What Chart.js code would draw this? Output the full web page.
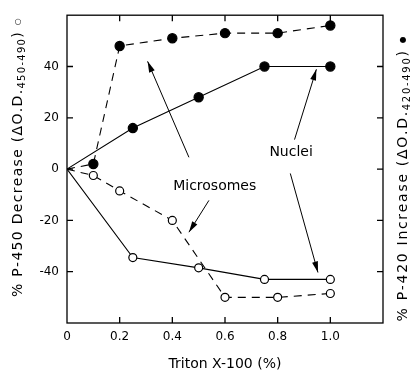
<!DOCTYPE html>
<html>
<head>
<meta charset="utf-8">
<script src="https://cdn.jsdelivr.net/npm/chart.js@4"></script>
<style>
  body { margin: 0; background: #fff; }
  canvas { display: block; }
</style>
</head>
<body>
<canvas id="chart" width="413" height="375"></canvas>
<script>
// Triton X-100 concentration (%)
const xMicrosomes = [0, 0.1, 0.2, 0.4, 0.6, 0.8, 1.0];
const xNuclei = [0, 0.25, 0.5, 0.75, 1.0];

// % P-420 increase (filled) and % P-450 decrease (open)
const p420Microsomes = [0, 2, 48, 51, 53, 53, 56];
const p420Nuclei = [0, 16, 28, 40, 40];
const p450Microsomes = [0, -2.5, -8.5, -20, -50, -50, -48.5];
const p450Nuclei = [0, -34.5, -38.5, -43, -43];

const xTickValues = [0, 0.2, 0.4, 0.6, 0.8, 1.0, 1.2];
const xTickLabels = ["0", "0.2", "0.4", "0.6", "0.8", "1.0", ""];
const yTickValues = [-60, -40, -20, 0, 20, 40, 60];
const yTickLabels = ["", "-40", "-20", "0", "20", "40", ""];

// labels and arrows, in data units
const labels = [
    { text: "Nuclei", x: 0.851, y: 6.4 },
    { text: "Microsomes", x: 0.561, y: -6.7 }
];
const arrows = [
    { from: [0.463, 4.6], to: [0.306, 42] },
    { from: [0.539, -12.2], to: [0.463, -24.6] },
    { from: [0.864, 11.5], to: [0.947, 38.9] },
    { from: [0.848, -1.7], to: [0.953, -40.3] }
];

const FONT = '"DejaVu Sans", sans-serif';

function pts(xs, ys) {
    return xs.map((x, i) => ({ x: x, y: ys[i] }));
}

function series(xs, ys, filled, dashed) {
    return {
        data: pts(xs, ys),
        borderColor: "#000",
        borderWidth: 1.1,
        borderDash: dashed ? [8, 6] : [],
        pointRadius: xs.map((x, i) => i === 0 ? 0 : (filled ? 4.6 : 4)),
        pointBackgroundColor: filled ? "#000" : "#fff",
        pointBorderColor: "#000",
        pointBorderWidth: 1.2,
        tension: 0
    };
}

// rotated text made of parts (for subscripts), drawn char by char with spacing
function drawRich(ctx, parts, cx, cy, spacing) {
    ctx.save();
    ctx.translate(cx, cy);
    ctx.rotate(-Math.PI / 2);
    let total = 0;
    parts.forEach(p => {
        ctx.font = p.size + "px " + FONT;
        p.w = 0;
        for (const ch of p.t) p.w += ctx.measureText(ch).width + spacing;
        total += p.w;
    });
    let x = -total / 2;
    ctx.textAlign = "left";
    ctx.textBaseline = "middle";
    ctx.fillStyle = "#000";
    parts.forEach(p => {
        ctx.font = p.size + "px " + FONT;
        for (const ch of p.t) {
            ctx.fillText(ch, x, p.dy || 0);
            x += ctx.measureText(ch).width + spacing;
        }
    });
    ctx.restore();
}

const decorations = {
    id: "decorations",
    afterDraw(chart) {
        const ctx = chart.ctx;
        const xs = chart.scales.x, ys = chart.scales.y;
        const a = chart.chartArea;

        ctx.save();
        ctx.strokeStyle = "#000";
        ctx.lineWidth = 1.3;
        ctx.strokeRect(a.left, a.top, a.right - a.left, a.bottom - a.top);

        // inward ticks on all four sides
        ctx.beginPath();
        xTickValues.slice(1, -1).forEach(v => {
            const px = xs.getPixelForValue(v);
            ctx.moveTo(px, a.bottom); ctx.lineTo(px, a.bottom - 6);
            ctx.moveTo(px, a.top); ctx.lineTo(px, a.top + 6);
        });
        yTickValues.slice(1, -1).forEach(v => {
            const py = ys.getPixelForValue(v);
            ctx.moveTo(a.left, py); ctx.lineTo(a.left + 6, py);
            ctx.moveTo(a.right, py); ctx.lineTo(a.right - 6, py);
        });
        ctx.stroke();

        // arrows
        ctx.lineWidth = 1;
        ctx.fillStyle = "#000";
        arrows.forEach(ar => {
            const x1 = xs.getPixelForValue(ar.from[0]), y1 = ys.getPixelForValue(ar.from[1]);
            const x2 = xs.getPixelForValue(ar.to[0]), y2 = ys.getPixelForValue(ar.to[1]);
            const ang = Math.atan2(y2 - y1, x2 - x1);
            ctx.beginPath();
            ctx.moveTo(x1, y1); ctx.lineTo(x2, y2);
            ctx.stroke();
            ctx.beginPath();
            ctx.moveTo(x2, y2);
            ctx.lineTo(x2 - 11 * Math.cos(ang) + 3 * Math.sin(ang), y2 - 11 * Math.sin(ang) - 3 * Math.cos(ang));
            ctx.lineTo(x2 - 11 * Math.cos(ang) - 3 * Math.sin(ang), y2 - 11 * Math.sin(ang) + 3 * Math.cos(ang));
            ctx.closePath();
            ctx.fill();
        });

        ctx.font = "14px " + FONT;
        ctx.textAlign = "center";
        ctx.textBaseline = "middle";
        labels.forEach(l => {
            ctx.fillText(l.text, xs.getPixelForValue(l.x), ys.getPixelForValue(l.y));
        });
        ctx.restore();

        // axis titles
        drawRich(ctx, [
            { t: "% P-450 Decrease (ΔO.D.", size: 14 },
            { t: "450-490", size: 10, dy: 4 },
            { t: ") ", size: 14 },
            { t: "○", size: 8 }
        ], 18, 157, 1.3);
        drawRich(ctx, [
            { t: "% P-420 Increase (ΔO.D.", size: 14 },
            { t: "420-490", size: 10, dy: 4 },
            { t: ") ", size: 14 },
            { t: "●", size: 8 }
        ], 403, 178, 1.7);

        ctx.save();
        ctx.font = "14px " + FONT;
        ctx.fillStyle = "#000";
        ctx.textAlign = "center";
        ctx.textBaseline = "middle";
        ctx.fillText("Triton X-100 (%)", (a.left + a.right) / 2, 364);
        ctx.restore();
    }
};

new Chart(document.getElementById("chart"), {
    type: "line",
    data: {
        datasets: [
            series(xMicrosomes, p420Microsomes, true, true),
            series(xNuclei, p420Nuclei, true, false),
            series(xMicrosomes, p450Microsomes, false, true),
            series(xNuclei, p450Nuclei, false, false)
        ]
    },
    options: {
        responsive: false,
        animation: false,
        layout: { padding: { top: 8, right: 30, left: 0, bottom: 0 } },
        plugins: { legend: { display: false }, tooltip: { enabled: false } },
        scales: {
            x: {
                type: "linear",
                min: 0,
                max: 1.2,
                afterBuildTicks: s => { s.ticks = xTickValues.map(v => ({ value: v })); },
                afterFit: s => { s.height = 52; },
                ticks: {
                    callback: (v, i) => xTickLabels[i],
                    font: { family: FONT, size: 12 },
                    color: "#000",
                    padding: 7,
                    maxRotation: 0,
                    autoSkip: false
                },
                grid: { display: false, drawTicks: false },
                border: { display: false }
            },
            y: {
                min: -60,
                max: 60,
                afterBuildTicks: s => { s.ticks = yTickValues.map(v => ({ value: v })); },
                afterFit: s => { s.width = 67; },
                ticks: {
                    callback: (v, i) => yTickLabels[i],
                    font: { family: FONT, size: 12 },
                    color: "#000",
                    padding: 8,
                    autoSkip: false
                },
                grid: { display: false, drawTicks: false },
                border: { display: false }
            }
        }
    },
    plugins: [decorations]
});
</script>
</body>
</html>
